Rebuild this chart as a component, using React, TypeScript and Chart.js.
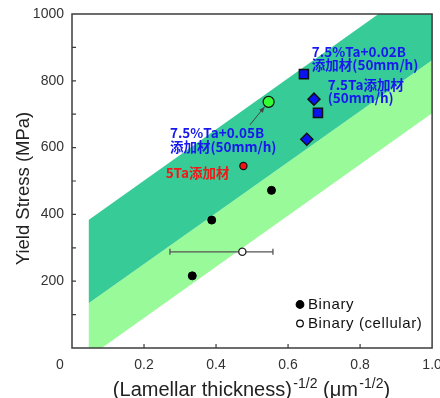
import React, { useEffect, useRef } from 'react';
import { Chart, registerables } from 'chart.js';

Chart.register(...registerables);

// ---- data ----
const bandX = [0.046, 1.0];
const bandUpper = [383, 1114];
const bandMiddle = [134, 862];
const bandLower = [-28, 703];

const binaryX = [0.334, 0.388, 0.554];
const binaryY = [216, 383, 472];

const cellularX = [0.473];
const cellularY = [288];
const cellularErrLow = [0.272];
const cellularErrHigh = [0.558];

const ta5X = [0.476];
const ta5Y = [545];

const ta75B005X = [0.546];
const ta75B005Y = [737];

const ta75B002X = [0.644, 0.683];
const ta75B002Y = [820, 704];

const ta75X = [0.652, 0.672];
const ta75Y = [625, 745];

const xTickValues = [0.2, 0.4, 0.6, 0.8, 1.0];
const yTickLabels = [200, 400, 600, 800, 1000];

const legendLabels = ['Binary', 'Binary (cellular)'];

// annotation labels: [lines], anchor x (data), line y (data), color
const annotations = [
  { lines: ['7.5%Ta+0.02B', '添加材(50mm/h)'], x: 0.666, y: [887, 847], color: '#1818ee' },
  { lines: ['7.5Ta添加材', '(50mm/h)'], x: 0.71, y: [787, 749], color: '#1818ee' },
  { lines: ['7.5%Ta+0.05B', '添加材(50mm/h)'], x: 0.272, y: [643, 603], color: '#1818ee' },
  { lines: ['5Ta添加材'], x: 0.26, y: [523], color: '#f01818' },
];
const arrowFrom = { x: 0.494, y: 668 };

const zip = (xs: number[], ys: number[]) => xs.map((x, i) => ({ x, y: ys[i] }));

const FONT = '"Liberation Sans", Arial, "Noto Sans CJK SC", sans-serif';
const ANNOT_FONT = '"Noto Sans CJK SC", "Noto Sans", sans-serif';
const DARK = '#36cb97';
const LIGHT = '#98fa98';
const FRAME = '#3c3c3c';

const CELL_INDEX = 1;

const overlay = {
  id: 'overlay',
  beforeDatasetDraw(chart: any, args: any) {
    if (args.index !== CELL_INDEX) return;
    const ctx = chart.ctx;
    const xs = chart.scales.x;
    const ys = chart.scales.y;
    ctx.save();
    ctx.strokeStyle = '#555';
    ctx.lineWidth = 1.3;
    cellularX.forEach((_, i) => {
      const y = ys.getPixelForValue(cellularY[i]);
      const x1 = xs.getPixelForValue(cellularErrLow[i]);
      const x2 = xs.getPixelForValue(cellularErrHigh[i]);
      ctx.beginPath();
      ctx.moveTo(x1, y);
      ctx.lineTo(x2, y);
      ctx.moveTo(x1, y - 3);
      ctx.lineTo(x1, y + 3);
      ctx.moveTo(x2, y - 3);
      ctx.lineTo(x2, y + 3);
      ctx.stroke();
    });
    ctx.restore();
  },
  afterDraw(chart: any) {
    const ctx = chart.ctx;
    const a = chart.chartArea;
    const xs = chart.scales.x;
    const ys = chart.scales.y;
    ctx.save();
    // frame
    ctx.strokeStyle = FRAME;
    ctx.lineWidth = 1.5;
    ctx.strokeRect(a.left, a.top, a.right - a.left, a.bottom - a.top);
    // ticks
    ctx.lineWidth = 1.2;
    ctx.beginPath();
    for (let v = 100; v < 1000; v += 100) {
      const y = ys.getPixelForValue(v);
      ctx.moveTo(a.left, y);
      ctx.lineTo(a.left + 4, y);
    }
    xTickValues.slice(0, -1).forEach((v) => {
      const x = xs.getPixelForValue(v);
      ctx.moveTo(x, a.bottom);
      ctx.lineTo(x, a.bottom - 4);
    });
    ctx.stroke();

    // "0" corner label
    ctx.fillStyle = '#333';
    ctx.font = `14px ${FONT}`;
    ctx.textAlign = 'center';
    ctx.textBaseline = 'middle';
    ctx.fillText('0', a.left - 12, a.bottom + 17);

    // annotations
    ctx.textAlign = 'left';
    ctx.font = `bold 13.5px ${ANNOT_FONT}`;
    annotations.forEach((an) => {
      ctx.fillStyle = an.color;
      an.lines.forEach((t, i) => {
        ctx.fillText(t, xs.getPixelForValue(an.x), ys.getPixelForValue(an.y[i]));
      });
    });

    // arrow to green point
    const gx = xs.getPixelForValue(ta75B005X[0]);
    const gy = ys.getPixelForValue(ta75B005Y[0]);
    const sx = xs.getPixelForValue(arrowFrom.x);
    const sy = ys.getPixelForValue(arrowFrom.y);
    const ang = Math.atan2(gy - sy, gx - sx);
    const ex = gx - Math.cos(ang) * 6.5;
    const ey = gy - Math.sin(ang) * 6.5;
    ctx.strokeStyle = '#444';
    ctx.fillStyle = '#444';
    ctx.lineWidth = 1;
    ctx.beginPath();
    ctx.moveTo(sx, sy);
    ctx.lineTo(ex, ey);
    ctx.stroke();
    ctx.beginPath();
    ctx.moveTo(ex, ey);
    ctx.lineTo(ex - Math.cos(ang - 0.4) * 6, ey - Math.sin(ang - 0.4) * 6);
    ctx.lineTo(ex - Math.cos(ang + 0.4) * 6, ey - Math.sin(ang + 0.4) * 6);
    ctx.closePath();
    ctx.fill();

    // legend
    const lx = 300;
    const ly = [304.5, 323.5];
    ctx.font = `15px ${FONT}`;
    (ctx as any).letterSpacing = '0.6px';
    ctx.textBaseline = 'middle';
    legendLabels.forEach((t, i) => {
      ctx.beginPath();
      ctx.arc(lx, ly[i], i === 0 ? 3.8 : 3.3, 0, Math.PI * 2);
      ctx.fillStyle = i === 0 ? '#000' : '#fff';
      ctx.fill();
      ctx.strokeStyle = '#000';
      ctx.lineWidth = 1.2;
      ctx.stroke();
      ctx.fillStyle = '#111';
      ctx.fillText(t, lx + 8, ly[i] + 0.5);
    });
    (ctx as any).letterSpacing = '0px';

    // y title
    ctx.save();
    ctx.translate(28.5, 188.5);
    ctx.rotate(-Math.PI / 2);
    ctx.font = `18.5px ${FONT}`;
    ctx.fillStyle = '#222';
    ctx.textAlign = 'center';
    ctx.textBaseline = 'alphabetic';
    ctx.fillText('Yield Stress (MPa)', 0, 0);
    ctx.restore();

    // x title with superscripts
    const parts = [
      { t: '(Lamellar thickness)', sup: false },
      { t: '-1/2', sup: true },
      { t: ' (μm', sup: false },
      { t: '-1/2', sup: true },
      { t: ')', sup: false },
    ];
    const mainF = `20px ${FONT}`;
    const supF = `14px ${FONT}`;
    let total = 0;
    parts.forEach((p) => {
      ctx.font = p.sup ? supF : mainF;
      total += ctx.measureText(p.t).width + (p.sup ? 1.5 : 0);
    });
    let cx = 251.5 - total / 2;
    const base = 396;
    ctx.fillStyle = '#222';
    ctx.textAlign = 'left';
    ctx.textBaseline = 'alphabetic';
    parts.forEach((p) => {
      ctx.font = p.sup ? supF : mainF;
      if (p.sup) cx += 1.5;
      ctx.fillText(p.t, cx, p.sup ? base - 8.5 : base);
      cx += ctx.measureText(p.t).width;
    });
    ctx.restore();
  },
};

export default function App() {
  const ref = useRef<HTMLCanvasElement>(null);
  useEffect(() => {
    document.body.style.margin = '0';
    const canvas = ref.current!;
    const chart = new Chart(canvas, {
      type: 'line',
      data: {
        datasets: [
          {
            label: 'Binary',
            data: zip(binaryX, binaryY),
            showLine: false,
            pointRadius: 4,
            pointBackgroundColor: '#000',
            pointBorderColor: '#000',
            pointBorderWidth: 1,
            order: 0,
          },
          {
            label: 'Binary (cellular)',
            data: zip(cellularX, cellularY),
            showLine: false,
            pointRadius: 3.6,
            pointBackgroundColor: '#fff',
            pointBorderColor: '#222',
            pointBorderWidth: 1.3,
            order: 0,
          },
          {
            label: '5Ta',
            data: zip(ta5X, ta5Y),
            showLine: false,
            pointRadius: 3.6,
            pointBackgroundColor: '#ff1010',
            pointBorderColor: '#111',
            pointBorderWidth: 1.2,
            order: 0,
          },
          {
            label: '7.5%Ta+0.05B',
            data: zip(ta75B005X, ta75B005Y),
            showLine: false,
            pointRadius: 5.5,
            pointBackgroundColor: '#33ff33',
            pointBorderColor: '#111',
            pointBorderWidth: 1.2,
            order: 0,
          },
          {
            label: '7.5%Ta+0.02B',
            data: zip(ta75B002X, ta75B002Y),
            showLine: false,
            pointStyle: 'rect',
            pointRadius: 6.4,
            pointBackgroundColor: '#0a14f0',
            pointBorderColor: '#111',
            pointBorderWidth: 1.5,
            order: 0,
          },
          {
            label: '7.5Ta',
            data: zip(ta75X, ta75Y),
            showLine: false,
            pointStyle: 'rectRot',
            pointRadius: 6,
            pointBackgroundColor: '#0a14f0',
            pointBorderColor: '#111',
            pointBorderWidth: 1.5,
            order: 0,
          },
          {
            label: 'bandUpper',
            data: zip(bandX, bandUpper),
            pointRadius: 0,
            borderWidth: 0,
            borderColor: 'rgba(0,0,0,0)',
            backgroundColor: DARK,
            fill: '+1',
            order: 10,
          },
          {
            label: 'bandMiddle',
            data: zip(bandX, bandMiddle),
            pointRadius: 0,
            borderWidth: 0,
            borderColor: 'rgba(0,0,0,0)',
            backgroundColor: LIGHT,
            fill: '+1',
            order: 10,
          },
          {
            label: 'bandLower',
            data: zip(bandX, bandLower),
            pointRadius: 0,
            borderWidth: 0,
            borderColor: 'rgba(0,0,0,0)',
            fill: false,
            order: 10,
          },
        ],
      },
      options: {
        animation: false,
        responsive: false,
        events: [],
        layout: { padding: { left: 0, right: 7, top: 14, bottom: 0 } },
        plugins: {
          legend: { display: false },
          tooltip: { enabled: false },
        },
        scales: {
          x: {
            type: 'linear',
            min: 0,
            max: 1,
            border: { display: false },
            grid: { display: false, drawTicks: false },
            ticks: {
              stepSize: 0.2,
              padding: 9,
              color: '#333',
              font: { family: FONT, size: 14 },
              callback: (v: any) => {
                const n = Number(v);
                const hit = xTickValues.find((t) => Math.abs(t - n) < 1e-6);
                return hit === undefined ? '' : hit.toFixed(1);
              },
            },
            afterFit: (s: any) => {
              s.height = 50;
              s.paddingLeft = 0;
              s.paddingRight = 0;
            },
          },
          y: {
            type: 'linear',
            min: 0,
            max: 1000,
            border: { display: false },
            grid: { display: false, drawTicks: false },
            ticks: {
              stepSize: 100,
              padding: 8,
              color: '#333',
              font: { family: FONT, size: 14 },
              callback: (v: any) => (yTickLabels.includes(Number(v)) ? String(v) : ''),
            },
            afterFit: (s: any) => {
              s.width = 72;
              s.paddingTop = 0;
              s.paddingBottom = 0;
            },
          },
        },
      },
      plugins: [overlay],
    } as any);
    return () => chart.destroy();
  }, []);
  return <canvas ref={ref} width={440} height={398} style={{ display: 'block' }} />;
}
